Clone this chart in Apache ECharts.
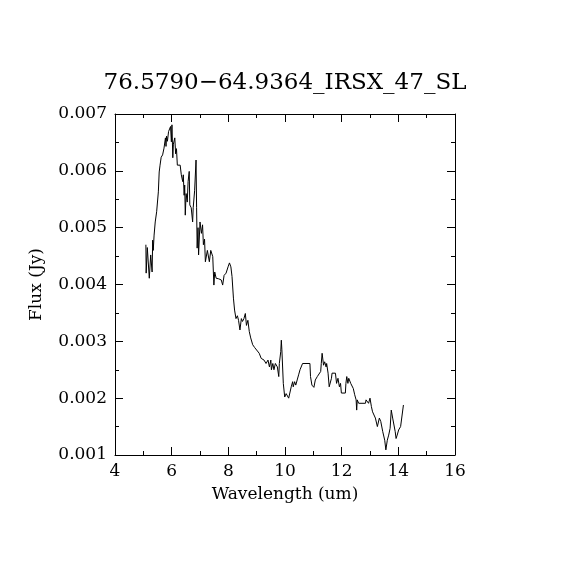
<!DOCTYPE html>
<html>
<head>
  <meta charset="UTF-8">
  <title>76.5790-64.9364_IRSX_47_SL</title>
  <script src="https://cdn.jsdelivr.net/npm/echarts@6/dist/echarts.min.js"></script>
  <style>
    html, body { margin: 0; padding: 0; background: #fff; }
    #chart { width: 570px; height: 570px; }
  </style>
</head>
<body>
  <div id="chart"></div>
  <script>
    // spectrum
    const wavelength = [
      5.09, 5.10, 5.14, 5.21, 5.26, 5.31, 5.33, 5.35, 5.38, 5.42, 5.47, 5.53, 5.56, 5.59, 5.63, 5.68,
      5.73, 5.78, 5.80, 5.82, 5.85, 5.89, 5.93, 5.96, 5.99, 6.01, 6.04, 6.06, 6.11, 6.14, 6.17, 6.20,
      6.30, 6.34, 6.39, 6.41, 6.44, 6.46, 6.48, 6.51, 6.55, 6.58, 6.62, 6.64, 6.69, 6.74, 6.76, 6.81,
      6.86, 6.88, 6.90, 6.93, 6.95, 7.00, 7.05, 7.09, 7.12, 7.16, 7.19, 7.26, 7.33, 7.38, 7.45, 7.49,
      7.52, 7.57, 7.66, 7.75, 7.80, 7.85, 7.92, 7.99, 8.04, 8.09, 8.13, 8.18, 8.22, 8.27, 8.32, 8.36,
      8.41, 8.46, 8.50, 8.55, 8.60, 8.64, 8.69, 8.74, 8.79, 8.86, 8.93, 9.00, 9.09, 9.16, 9.26, 9.33,
      9.40, 9.45, 9.50, 9.52, 9.57, 9.61, 9.66, 9.73, 9.78, 9.80, 9.85, 9.87, 9.89, 9.94, 9.99, 10.04,
      10.13, 10.20, 10.22, 10.27, 10.29, 10.34, 10.38, 10.43, 10.48, 10.53, 10.57, 10.62, 10.88, 10.90,
      10.95, 11.02, 11.07, 11.14, 11.21, 11.26, 11.28, 11.31, 11.36, 11.40, 11.45, 11.47, 11.52, 11.56,
      11.61, 11.64, 11.66, 11.78, 11.82, 11.87, 11.92, 11.96, 11.99, 12.13, 12.15, 12.18, 12.22, 12.25,
      12.29, 12.32, 12.36, 12.41, 12.46, 12.51, 12.53, 12.55, 12.60, 12.65, 12.84, 12.86, 12.91, 12.95,
      13.00, 13.05, 13.09, 13.14, 13.19, 13.26, 13.33, 13.38, 13.45, 13.52, 13.56, 13.61, 13.66, 13.71,
      13.75, 13.80, 13.85, 13.89, 13.92, 13.96, 14.01, 14.08, 14.13, 14.18
    ];
    const flux = [
      0.00470, 0.00420, 0.00465, 0.00411, 0.00452, 0.00422, 0.00478, 0.00460, 0.00487, 0.00510, 0.00528, 0.00563, 0.00598, 0.00610, 0.00624, 0.00628,
      0.00640, 0.00658, 0.00643, 0.00661, 0.00652, 0.00669, 0.00671, 0.00678, 0.00651, 0.00681, 0.00623, 0.00647, 0.00658, 0.00630, 0.00639, 0.00610,
      0.00610, 0.00593, 0.00581, 0.00593, 0.00557, 0.00575, 0.00522, 0.00560, 0.00545, 0.00581, 0.00599, 0.00540, 0.00535, 0.00510, 0.00535, 0.00565,
      0.00619, 0.00535, 0.00464, 0.00500, 0.00452, 0.00510, 0.00490, 0.00505, 0.00470, 0.00480, 0.00440, 0.00460, 0.00440, 0.00460, 0.00449, 0.00399,
      0.00422, 0.00411, 0.00410, 0.00408, 0.00399, 0.00416, 0.00420, 0.00431, 0.00438, 0.00431, 0.00414, 0.00376, 0.00355, 0.00340, 0.00345, 0.00337,
      0.00320, 0.00340, 0.00335, 0.00340, 0.00349, 0.00328, 0.00337, 0.00317, 0.00306, 0.00294, 0.00289, 0.00286, 0.00279, 0.00270, 0.00267, 0.00261,
      0.00267, 0.00255, 0.00267, 0.00250, 0.00261, 0.00250, 0.00261, 0.00255, 0.00238, 0.00261, 0.00282, 0.00302, 0.00285, 0.00226, 0.00202, 0.00208,
      0.00200, 0.00200, 0.00220, 0.00229, 0.00220, 0.00229, 0.00223, 0.00232, 0.00241, 0.00250, 0.00253, 0.00261, 0.00261, 0.00238,
      0.00223, 0.00219, 0.00232, 0.00238, 0.00241, 0.00247, 0.00261, 0.00279, 0.00258, 0.00264, 0.00255, 0.00261, 0.00244, 0.00220,
      0.00220, 0.00235, 0.00244, 0.00244, 0.00226, 0.00235, 0.00220, 0.00226, 0.00209, 0.00209, 0.00226, 0.00238, 0.00226, 0.00235,
      0.00232, 0.00226, 0.00223, 0.00217, 0.00206, 0.00197, 0.00179, 0.00197, 0.00191, 0.00191, 0.00191, 0.00197, 0.00200, 0.00191,
      0.00200, 0.00185, 0.00176, 0.00179, 0.00165, 0.00150, 0.00165, 0.00159, 0.00141, 0.00126, 0.00109, 0.00126, 0.00135, 0.00147,
      0.00179, 0.00165, 0.00162, 0.00141, 0.00129, 0.00135, 0.00144, 0.00150, 0.00153, 0.00188
    ];
    const xRange = [4, 16];
    const yRange = [0.001, 0.007];

    const font = 'DejaVu Serif';
    const chart = echarts.init(document.getElementById('chart'));

    // one frame axis, mirrored on the other side without labels
    function frameAxis(extra) {
      return Object.assign({
        type: 'value',
        axisLine: { show: true, onZero: false, lineStyle: { color: '#000', width: 1 } },
        axisTick: { show: true, inside: true, length: 8, lineStyle: { color: '#000' } },
        minorTick: { show: true, splitNumber: 2, length: 4, lineStyle: { color: '#000' } },
        splitLine: { show: false },
        axisLabel: { show: false }
      }, extra);
    }

    const label = { show: true, color: '#000', fontFamily: font, fontSize: 17 };

    chart.setOption({
      animation: false,
      title: {
        text: '76.5790\u221264.9364_IRSX_47_SL',
        left: 'center',
        top: 67,
        textStyle: { color: '#000', fontFamily: font, fontWeight: 'normal', fontSize: 23 }
      },
      grid: { left: 115, right: 115, top: 114, bottom: 115 },
      xAxis: [
        frameAxis({
          position: 'bottom', min: xRange[0], max: xRange[1], interval: 2,
          axisLabel: Object.assign({ margin: 8 }, label),
          name: 'Wavelength (um)', nameLocation: 'middle', nameGap: 31,
          nameTextStyle: { color: '#000', fontFamily: font, fontSize: 17 }
        }),
        frameAxis({ position: 'top', min: xRange[0], max: xRange[1], interval: 2 })
      ],
      yAxis: [
        frameAxis({
          position: 'left', min: yRange[0], max: yRange[1], interval: 0.001,
          axisLabel: Object.assign({ margin: 8, formatter: v => v.toFixed(3) }, label),
          name: 'Flux (Jy)', nameLocation: 'middle', nameGap: 70,
          nameTextStyle: { color: '#000', fontFamily: font, fontSize: 17 }
        }),
        frameAxis({ position: 'right', min: yRange[0], max: yRange[1], interval: 0.001 })
      ],
      series: [{
        type: 'line',
        data: wavelength.map((w, i) => [w, flux[i]]),
        showSymbol: false,
        lineStyle: { color: '#000', width: 1 },
        itemStyle: { color: '#000' }
      }]
    });
  </script>
</body>
</html>
